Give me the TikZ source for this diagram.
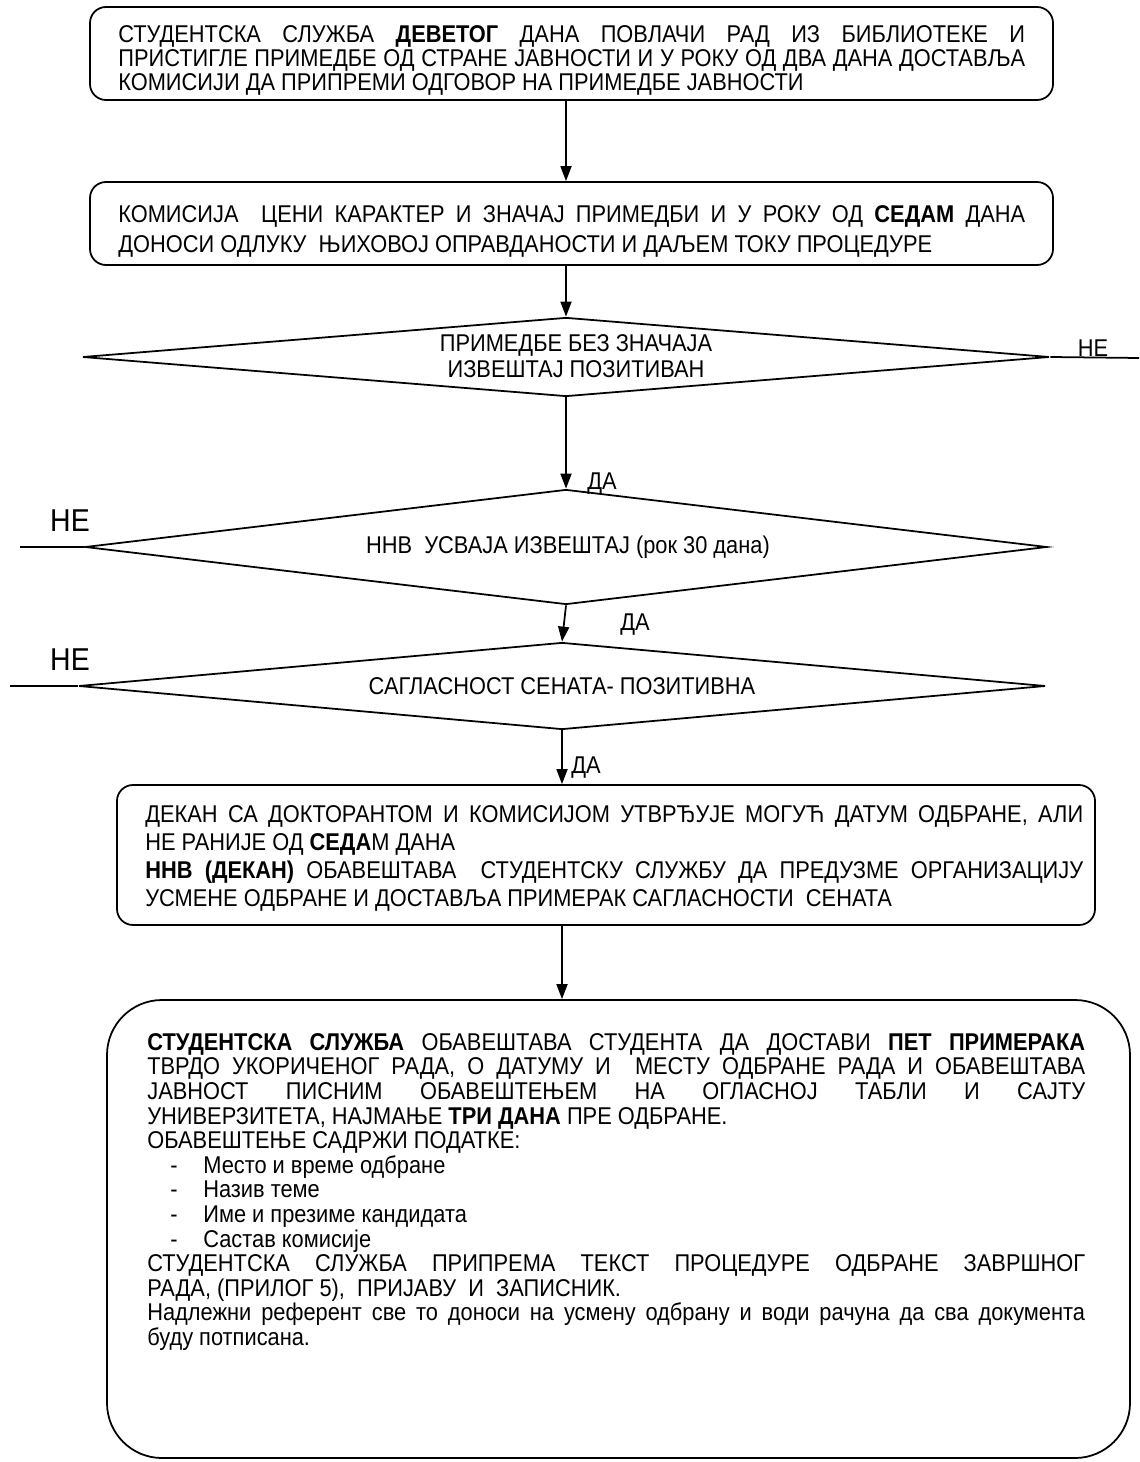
\documentclass[tikz,border=0pt]{standalone}
\usepackage{fontspec}
\setmainfont{Liberation Sans}[FakeStretch=0.9]
\usetikzlibrary{shapes.geometric,arrows.meta,fit}

\newcommand{\jline}[2][18.76cm]{\makebox[#1][s]{#2}}
\newcommand{\txtsize}[1]{\fontsize{13.8}{#1}\selectfont\lineskiplimit=-20pt}

\tikzset{
  procbox/.style={draw, line width=1pt, rounded corners=0.32cm, inner sep=0pt},
  bigbox/.style={draw, line width=1pt, rounded corners=1.1cm, inner sep=0pt},
  decision/.style={draw, line width=1pt, diamond, inner sep=0pt},
  flow/.style={line width=1pt, -{Triangle[length=0.3cm,width=0.22cm]}},
  txt/.style={inner sep=0pt, align=left, font=\txtsize{15}},
  lbl/.style={inner sep=0pt, font=\fontsize{13.8}{14}\selectfont},
  biglbl/.style={inner sep=0pt, font=\fontsize{18}{18}\selectfont},
}

\begin{document}
\begin{tikzpicture}[x=0.02cm, y=-0.02cm]
  \useasboundingbox (0,0) rectangle (1139,1462);

  % process boxes
  \node[procbox, fit={(90,7) (1053,100)}] (b1) {};
  \node[procbox, fit={(90,182) (1053,265)}] (b2) {};
  \node[procbox, fit={(117,785) (1095,925)}] (b4) {};
  \node[bigbox, fit={(107,1000) (1130,1458)}] (b5) {};

  % decisions
  \node[decision, minimum width=19.34cm, minimum height=1.58cm] (d1) at (566,357) {};
  \node[decision, minimum width=19.24cm, minimum height=2.3cm] (d2) at (566,547) {};
  \node[decision, minimum width=19.34cm, minimum height=1.74cm] (d3) at (562,686) {};

  % texts
  \node[txt, anchor=north west, font=\txtsize{13.6}] (t1) at (118,25)
  {\jline[18.14cm]{СТУДЕНТСКА СЛУЖБА \textbf{ДЕВЕТОГ} ДАНА ПОВЛАЧИ РАД ИЗ БИБЛИОТЕКЕ И}\\
   \jline[18.14cm]{ПРИСТИГЛЕ ПРИМЕДБЕ ОД СТРАНЕ ЈАВНОСТИ И У РОКУ ОД ДВА ДАНА ДОСТАВЉА}\\
   КОМИСИЈИ ДА ПРИПРЕМИ ОДГОВОР НА ПРИМЕДБЕ ЈАВНОСТИ};
  \node[txt, anchor=north west, font=\txtsize{17}] (t2) at (118,205)
  {\jline[18.14cm]{КОМИСИЈА\ \ ЦЕНИ КАРАКТЕР И ЗНАЧАЈ ПРИМЕДБИ И У РОКУ ОД \textbf{СЕДАМ} ДАНА}\\
   ДОНОСИ ОДЛУКУ\ \ ЊИХОВОЈ ОПРАВДАНОСТИ И ДАЉЕМ ТОКУ ПРОЦЕДУРЕ};
  \node[txt, align=center] (t3) at (576,356)
  {ПРИМЕДБЕ БЕЗ ЗНАЧАЈА\\ ИЗВЕШТАЈ ПОЗИТИВАН};
  \node[txt] (t4) at (568,547) {ННВ\ \ УСВАЈА ИЗВЕШТАЈ (рок 30 дана)};
  \node[txt] (t5) at (562,686) {САГЛАСНОСТ СЕНАТА- ПОЗИТИВНА};
  \node[txt, anchor=north west, font=\txtsize{16}] (t6) at (145,805)
  {\jline{ДЕКАН СА ДОКТОРАНТОМ И КОМИСИЈОМ УТВРЂУЈЕ МОГУЋ ДАТУМ ОДБРАНЕ, АЛИ}\\
   НЕ РАНИЈЕ ОД \textbf{СЕДА}М ДАНА\\
   \jline{\textbf{ННВ (ДЕКАН)} ОБАВЕШТАВА\ \ СТУДЕНТСКУ СЛУЖБУ ДА ПРЕДУЗМЕ ОРГАНИЗАЦИЈУ}\\
   УСМЕНЕ ОДБРАНЕ И ДОСТАВЉА ПРИМЕРАК САГЛАСНОСТИ\ \ СЕНАТА};
  \node[txt, anchor=north west, font=\txtsize{14}] (t7) at (147,1033)
  {\jline{\textbf{СТУДЕНТСКА СЛУЖБА} ОБАВЕШТАВА СТУДЕНТА ДА ДОСТАВИ \textbf{ПЕТ ПРИМЕРАКА}}\\
   \jline{ТВРДО УКОРИЧЕНОГ РАДА, О ДАТУМУ И\ \ МЕСТУ ОДБРАНЕ РАДА И ОБАВЕШТАВА}\\
   \jline{ЈАВНОСТ ПИСНИМ ОБАВЕШТЕЊЕМ НА ОГЛАСНОЈ ТАБЛИ И САЈТУ}\\
   УНИВЕРЗИТЕТА, НАЈМАЊЕ \textbf{ТРИ ДАНА} ПРЕ ОДБРАНЕ.\\
   ОБАВЕШТЕЊЕ САДРЖИ ПОДАТКЕ:\\
   \hspace*{0.46cm}\makebox[0.66cm][l]{-}Место и време одбране\\
   \hspace*{0.46cm}\makebox[0.66cm][l]{-}Назив теме\\
   \hspace*{0.46cm}\makebox[0.66cm][l]{-}Име и презиме кандидата\\
   \hspace*{0.46cm}\makebox[0.66cm][l]{-}Састав комисије\\
   \jline{СТУДЕНТСКА СЛУЖБА ПРИПРЕМА ТЕКСТ ПРОЦЕДУРЕ ОДБРАНЕ ЗАВРШНОГ}\\
   РАДА, (ПРИЛОГ 5),\ \ ПРИЈАВУ\ \ И\ \ ЗАПИСНИК.\\
   \jline{Надлежни референт све то доноси на усмену одбрану и води рачуна да сва документа}\\
   буду потписана.};

  % flow
  \draw[flow] (b1.south -| d1.north) -- (b2.north -| d1.north);
  \draw[flow] (b2.south -| d1.north) -- (d1.north);
  \draw[flow] (d1.south) -- (d2.north);
  \draw[flow] (d2.south) -- (d3.north);
  \draw[flow] (d3.south) -- (d3.south |- b4.north);
  \draw[flow] (d3.south |- b4.south) -- (d3.south |- b5.north);

  % yes / no labels
  \node[lbl, anchor=west] (y1) at (587,484) {ДА};
  \node[lbl, anchor=west] (y2) at (620,625) {ДА};
  \node[lbl, anchor=west] (y3) at (571,768) {ДА};
  \coordinate (n1) at (1139,358);
  \coordinate (n2) at (20,547);
  \coordinate (n3) at (10,686);
  \draw[line width=1pt] (d1.east) -- (n1);
  \draw[line width=1pt] (n2) -- (d2.west);
  \draw[line width=1pt] (n3) -- (d3.west);
  \node[lbl, anchor=south] (no1) at (1093,357) {НЕ};
  \node[biglbl] (no2) at (70,521) {НЕ};
  \node[biglbl] (no3) at (70,660) {НЕ};
\end{tikzpicture}
\end{document}
